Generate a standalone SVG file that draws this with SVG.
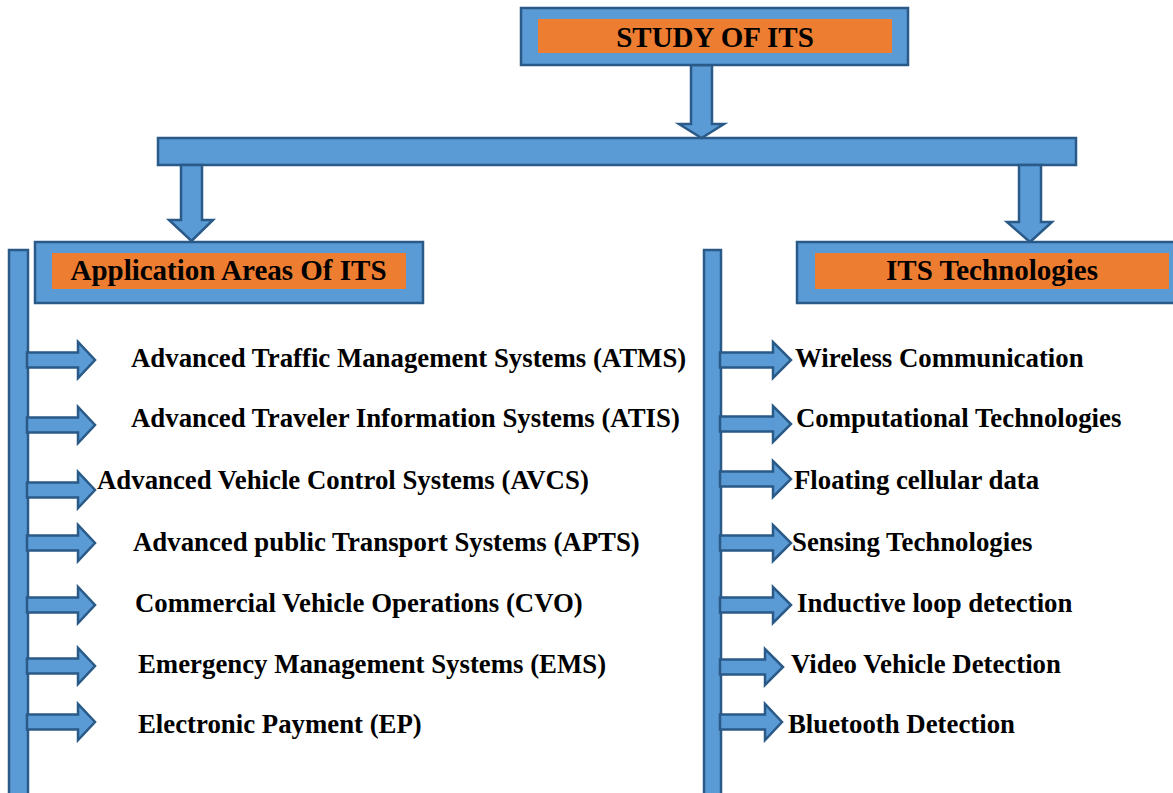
<svg xmlns="http://www.w3.org/2000/svg" width="1173" height="793" viewBox="0 0 1173 793">
<style>
.blue{fill:#5B9BD5;stroke:#2A5A88;stroke-width:2.5;stroke-linejoin:miter}
.orange{fill:#ED7D31}
.h{font-family:"Liberation Serif","Times New Roman",serif;font-weight:bold;font-size:29px;fill:#000}
.t{font-family:"Liberation Serif","Times New Roman",serif;font-weight:bold;font-size:26.8px;fill:#000}
</style>
<rect width="1173" height="793" fill="#fff"/>
<g id="connectors">
<rect class="blue" x="158" y="138" width="918" height="27"/>
<polygon class="blue" points="691,65 712,65 712,124 724,124 701.5,138 679,124 691,124"/>
<polygon class="blue" points="181,165 202,165 202,220 213,220 191.5,241 169,220 181,220"/>
<polygon class="blue" points="1019,165 1041,165 1041,222 1052,222 1030,242 1007,222 1019,222"/>
<rect class="blue" x="9" y="250" width="19" height="560"/>
<rect class="blue" x="704" y="250" width="17" height="560"/>
<g id="left-arrows">
<polygon class="blue" points="27,352.5 78,352.5 78,342 95,360 78,378 78,367.5 27,367.5"/>
<polygon class="blue" points="27,417.5 78,417.5 78,407 95,425 78,443 78,432.5 27,432.5"/>
<polygon class="blue" points="27,482.5 78,482.5 78,472 95,490 78,508 78,497.5 27,497.5"/>
<polygon class="blue" points="27,535.5 78,535.5 78,525 95,543 78,561 78,550.5 27,550.5"/>
<polygon class="blue" points="27,597.5 78,597.5 78,587 95,605 78,623 78,612.5 27,612.5"/>
<polygon class="blue" points="27,658.5 78,658.5 78,648 95,666 78,684 78,673.5 27,673.5"/>
<polygon class="blue" points="27,714.5 78,714.5 78,704 95,722 78,740 78,729.5 27,729.5"/>
</g>
<g id="right-arrows">
<polygon class="blue" points="720,352.5 773,352.5 773,342 791,360 773,378 773,367.5 720,367.5"/>
<polygon class="blue" points="720,416.5 773,416.5 773,406 791,424 773,442 773,431.5 720,431.5"/>
<polygon class="blue" points="720,471.5 773,471.5 773,461 791,479 773,497 773,486.5 720,486.5"/>
<polygon class="blue" points="720,535.5 773,535.5 773,525 791,543 773,561 773,550.5 720,550.5"/>
<polygon class="blue" points="720,597.5 773,597.5 773,587 791,605 773,623 773,612.5 720,612.5"/>
<polygon class="blue" points="720,659.5 765,659.5 765,649 783,667 765,685 765,674.5 720,674.5"/>
<polygon class="blue" points="720,714.5 765,714.5 765,704 782,722 765,740 765,729.5 720,729.5"/>
</g>
</g>
<g id="study-of-its">
<rect class="blue" x="521" y="8" width="387" height="57"/>
<rect class="orange" x="538" y="19" width="354" height="34"/>
<text class="h" x="715" y="47" text-anchor="middle" font-size="29.5">STUDY OF ITS</text>
</g>
<g id="application-areas">
<rect class="blue" x="35" y="242" width="388" height="61"/>
<rect class="orange" x="52" y="253" width="354" height="36"/>
<text class="h" x="228.5" y="280" text-anchor="middle">Application Areas Of ITS</text>
</g>
<g id="its-technologies">
<rect class="blue" x="797" y="242" width="390" height="61"/>
<rect class="orange" x="815" y="253" width="354" height="36"/>
<text class="h" x="992" y="280" text-anchor="middle">ITS Technologies</text>
</g>
<g id="atms"><text class="t" x="131" y="367">Advanced Traffic Management Systems (ATMS)</text></g>
<g id="atis"><text class="t" x="131" y="427">Advanced Traveler Information Systems (ATIS)</text></g>
<g id="avcs"><text class="t" x="97" y="489">Advanced Vehicle Control Systems (AVCS)</text></g>
<g id="apts"><text class="t" x="133" y="551">Advanced public Transport Systems (APTS)</text></g>
<g id="cvo"><text class="t" x="135" y="612">Commercial Vehicle Operations (CVO)</text></g>
<g id="ems"><text class="t" x="138" y="673">Emergency Management Systems (EMS)</text></g>
<g id="ep"><text class="t" x="138" y="733">Electronic Payment (EP)</text></g>
<g id="wireless"><text class="t" x="795" y="367">Wireless Communication</text></g>
<g id="computational"><text class="t" x="796" y="427">Computational Technologies</text></g>
<g id="floating"><text class="t" x="794" y="489">Floating cellular data</text></g>
<g id="sensing"><text class="t" x="792" y="551">Sensing Technologies</text></g>
<g id="inductive"><text class="t" x="797" y="612">Inductive loop detection</text></g>
<g id="video"><text class="t" x="791" y="673">Video Vehicle Detection</text></g>
<g id="bluetooth"><text class="t" x="788" y="733">Bluetooth Detection</text></g>
</svg>
